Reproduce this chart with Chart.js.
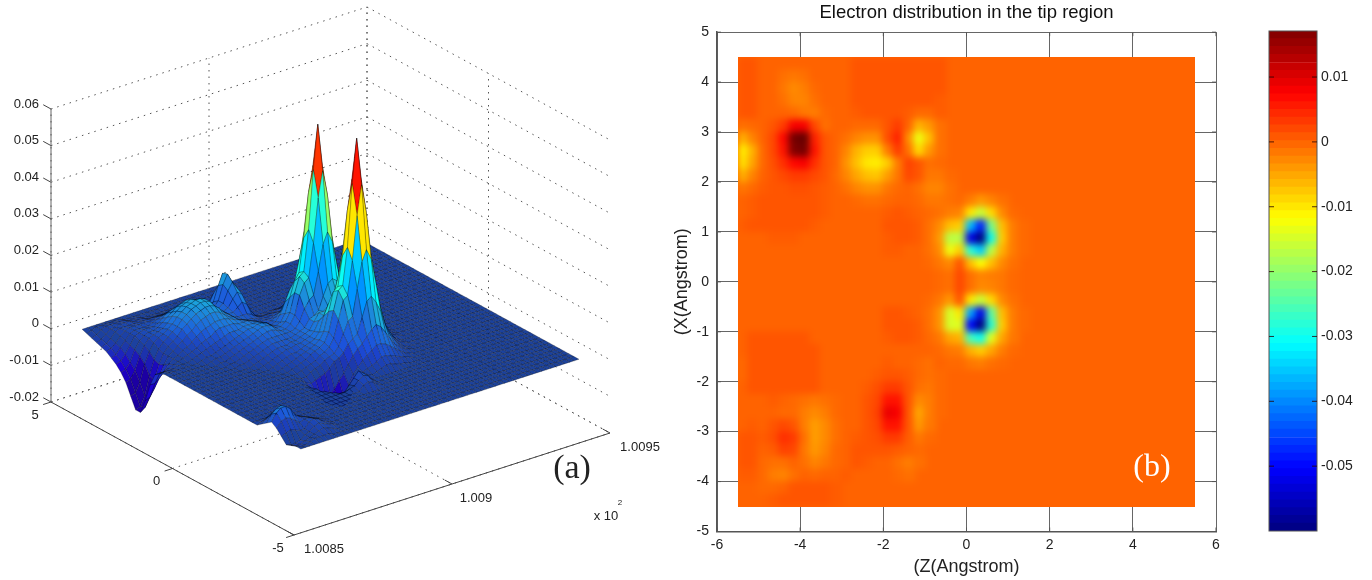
<!DOCTYPE html>
<html>
<head>
<meta charset="utf-8">
<title>Electron distribution in the tip region</title>
<script src="https://cdn.jsdelivr.net/npm/chart.js@4"></script>
<style>
  body { margin: 0; background: #fff; overflow: hidden; }
  canvas { position: absolute; top: 0; filter: blur(0.4px); }
  #surfaceChart { left: 0; }
  #heatChart { left: 660px; }
  #barChart { left: 1250px; }
</style>
</head>
<body>
<canvas id="surfaceChart" width="660" height="580"></canvas>
<canvas id="heatChart" width="590" height="580"></canvas>
<canvas id="barChart" width="122" height="580"></canvas>
<script>
// (a) surface: axis ticks
const zTicks = [-0.02, -0.01, 0, 0.01, 0.02, 0.03, 0.04, 0.05, 0.06];
const zTickLabels = ['-0.02', '-0.01', '0', '0.01', '0.02', '0.03', '0.04', '0.05', '0.06'];
const yTicks = [5, 0, -5];
const xTicks = [100.85, 100.9, 100.95];
const xTickLabels = ['1.0085', '1.009', '1.0095'];

// (a) surface mesh positions
const surfaceX = [100.856, 100.8575, 100.8589, 100.8604, 100.8619, 100.8633, 100.8648, 100.8663, 100.8677, 100.8692,
  100.8707, 100.8721, 100.8736, 100.8751, 100.8765, 100.878, 100.8795, 100.8809, 100.8824, 100.8839, 100.8853, 100.8868,
  100.8883, 100.8897, 100.8912, 100.8927, 100.8941, 100.8956, 100.8971, 100.8985, 100.9, 100.9015, 100.9029, 100.9044,
  100.9059, 100.9073, 100.9088, 100.9103, 100.9117, 100.9132, 100.9147, 100.9161, 100.9176, 100.9191, 100.9205, 100.922,
  100.9235, 100.9249, 100.9264, 100.9279, 100.9293, 100.9308, 100.9323, 100.9337, 100.9352, 100.9367, 100.9381, 100.9396,
  100.9411, 100.9425, 100.944];
const surfaceY = [4.5, 4.3, 4.1, 3.9, 3.7, 3.5, 3.3, 3.1, 2.9, 2.7, 2.5, 2.3, 2.1, 1.9, 1.7, 1.5, 1.3, 1.1, 0.9, 0.7, 0.5,
  0.3, 0.1, -0.1, -0.3, -0.5, -0.7, -0.9, -1.1, -1.3, -1.5, -1.7, -1.9, -2.1, -2.3, -2.5, -2.7, -2.9, -3.1, -3.3, -3.5,
  -3.7, -3.9, -4.1, -4.3, -4.5];

// (a) heights, in 0.001 units, one row per surfaceY. Missing columns are flat (0)
const surfaceHeight = [
  [],
  [-.5, 0, .5, .5, .5, .5, .5, .5],
  [-1, -.5, .5, 1, 1, 1, 1, 1, .5, .5, .5],
  [-1.5, -1, 0, 1, 1, 1.5, 1.5, 1.5, 1, 1, 1, .5, .5, .5, .5, .5, .5, .5],
  [-2, -1.5, -.5, 1, 1.5, 1.5, 1.5, 1.5, 1.5, 1.5, 1.5, 1.5, 1.5, 1.5, 1.5, 1, 1, 1, .5, .5, .5, .5, .5, .5],
  [-2.5, -2, -1, .5, 1.5, 2, 2, 2, 2, 2, 2, 2.5, 2.5, 2.5, 2.5, 2, 2, 1.5, 1, 1, 1, 1.5, 2, 2, 1, .5],
  [-3.5, -3, -1.5, 0, 1.5, 2, 2, 2, 2, 2.5, 3, 3.5, 4, 4, 4, 3.5, 3, 2.5, 2, 1.5, 1.5, 2.5, 5, 6, 4, 1],
  [-4.5, -4, -2.5, -.5, 1.5, 2, 2.5, 2.5, 2.5, 3, 4, 5, 5.5, 6, 6, 5.5, 5, 4, 3, 2.5, 2.5, 4, 8, 11, 8, 2],
  [-6, -5.5, -4, -1, 1, 2, 2.5, 2.5, 3, 4, 5, 6, 7, 7.5, 8, 7.5, 6.5, 5.5, 4, 3.5, 3.5, 5, 9, 11.5, 9, 3, .5],
  [-8, -7.5, -5.5, -2, .5, 2, 2.5, 3, 3.5, 4.5, 6, 7, 8, 8.5, 9, 8.5, 8, 6.5, 5, 4, 4, 5, 8, 10, 8, 3, .5],
  [-11, -10.5, -8, -3.5, -.5, 1.5, 2.5, 3, 4, 5, 6.5, 7.5, 8.5, 9, 9.5, 9.5, 9, 7.5, 6, 4.5, 4, 4.5, 6.5, 8, 7, 3, .5],
  [-14, -13.5, -11, -6, -2, .5, 2, 3, 4, 5, 6.5, 7.5, 8.5, 9, 9.5, 9.5, 9, 7.5, 6, 5, 4, 4, 5, 6, 5, 2.5, 1, .5, .5, .5, 1, 1, 1.5, 1, .5, .5],
  [-14, -13, -10.5, -6.5, -2.5, 0, 1.5, 2.5, 3.5, 5, 6, 7, 8, 8.5, 9, 9, 8.5, 7.5, 6, 5, 4, 3.5, 3.5, 3.5, 3, 2, 1.5, 1.5, 1.5, 1.5, 2, 2, 3, 2, 2, 1.5, 1, .5],
  [-10, -9.5, -7.5, -4.5, -2, 0, 1, 2, 3, 4, 5, 6, 7, 7.5, 8, 8, 7.5, 6.5, 5.5, 5, 4, 3.5, 3, 3, 2.5, 2, 2, 2, 2.5, 2.5, 3.5, 4, 5.5, 4, 3, 2.5, 1.5, 1, .5],
  [-5, -5, -4, -2.5, -1, 0, .5, 1.5, 2, 3, 4, 5, 5.5, 6, 6.5, 6.5, 6.5, 6, 5.5, 5, 4.5, 4, 3.5, 3, 2.5, 2.5, 2.5, 3, 3.5, 4, 5, 7, 9.5, 7, 5, 3, 2, 1.5, 1, .5],
  [-1.5, -1.5, -1.5, -1, -.5, 0, .5, 1, 1.5, 2, 3, 3.5, 4, 5, 5.5, 5.5, 5.5, 5.5, 5, 5, 5, 4.5, 4, 3, 2.5, 3, 3.5, 4.5, 6, 6.5, 8, 12, 16, 12, 8, 5, 3, 2, 1, .5],
  [-.5, -.5, -.5, -.5, 0, 0, 0, .5, 1, 1.5, 2, 2.5, 3, 3.5, 4, 4.5, 4.5, 4.5, 5, 5, 5, 5, 4.5, 4, 3, 3.5, 5, 8, 11, 12, 18, 25, 28, 25, 18, 12, 7, 4.5, 3, 1.5, 1, .5],
  [0, 0, 0, 0, 0, 0, 0, 0, .5, 1, 1, 1.5, 2, 2.5, 3, 3.5, 4, 4.5, 5, 5, 5.5, 5.5, 5, 4, 3.5, 4, 6, 10, 14, 16, 25, 37, 44, 37, 25, 15, 9, 5, 3, 1.5, 1, .5],
  [0, 0, 0, 0, 0, 0, 0, 0, 0, .5, 1, 1, 1.5, 2, 2.5, 3, 3.5, 4, 4.5, 5, 5.5, 5.5, 5, 4, 4, 5, 7, 12, 16, 17, 28, 44, 56, 44, 28, 16, 9.5, 5.5, 3, 1.5, 1, .5],
  [0, 0, 0, 0, 0, 0, 0, 0, 0, 0, .5, .5, 1, 1.5, 2, 2.5, 3, 3.5, 4, 4.5, 5, 5, 4.5, 4, 4, 5, 7, 12, 15, 16, 25, 37, 44, 37, 25, 15, 9, 5, 3, 1.5, 1, .5],
  [0, 0, 0, 0, 0, 0, 0, 0, 0, 0, 0, .5, .5, 1, 1.5, 2, 2.5, 3, 3.5, 4, 4, 4, 4, 4, 4, 4.5, 6, 9, 11, 12, 18, 25, 28, 25, 18, 12, 7, 4.5, 3, 1.5, 1, .5],
  [0, 0, 0, 0, 0, 0, 0, 0, 0, 0, 0, 0, .5, .5, 1, 1.5, 2, 2.5, 3, 3.5, 3.5, 3.5, 3.5, 3.5, 4, 4.5, 5, 7, 7.5, 8.5, 12, 15, 16, 15, 12, 8, 5, 3.5, 2, 1, .5],
  [0, 0, 0, 0, 0, 0, 0, 0, 0, 0, 0, 0, 0, 0, .5, 1, 1.5, 2, 2.5, 3, 3, 3, 3.5, 3.5, 4, 4.5, 5, 7, 9, 9, 10, 11, 12, 11, 9, 7, 5, 3, 2, 1, .5],
  [0, 0, 0, 0, 0, 0, 0, 0, 0, 0, 0, 0, 0, 0, 0, .5, 1, 1.5, 2, 2.5, 3, 3, 3.5, 3.5, 4, 4.5, 5.5, 8, 9, 10, 13, 16, 17, 16, 12.5, 8.5, 5, 3.5, 2, 1, .5],
  [0, 0, 0, 0, 0, 0, 0, 0, 0, 0, 0, 0, 0, 0, 0, 0, .5, 1, 1.5, 2, 2.5, 2.5, 3, 3.5, 4, 4.5, 6, 10, 13, 14, 19, 26, 29, 26, 19, 12.5, 7.5, 4.5, 3, 1.5, 1, .5],
  [0, 0, 0, 0, 0, 0, 0, 0, 0, 0, 0, 0, 0, 0, 0, 0, 0, .5, 1, 1.5, 2, 2.5, 3, 3.5, 4, 5, 7, 12, 17, 18, 26, 38, 46, 38, 26, 15.5, 9, 5, 3, 1.5, 1, .5],
  [0, 0, 0, 0, 0, 0, 0, 0, 0, 0, 0, 0, 0, 0, 0, 0, 0, 0, .5, 1, 1.5, 2, 3, 3.5, 4, 5, 7.5, 13, 18, 19, 29, 46, 58, 46, 29, 16, 9.5, 5.5, 3, 1.5, 1, .5],
  [0, 0, 0, 0, 0, 0, 0, 0, 0, 0, 0, 0, 0, 0, 0, 0, 0, 0, 0, .5, 1, 1.5, 2, 3, 3.5, 4.5, 6.5, 11, 16, 17, 26, 38, 46, 38, 26, 15.5, 9, 5, 3, 1.5, .5],
  [0, 0, 0, 0, 0, 0, 0, 0, 0, 0, 0, 0, 0, 0, 0, 0, 0, 0, -.5, -.5, .5, 1, 1.5, 2.5, 3, 3.5, 5, 8, 11, 12, 19, 26, 29, 26, 19, 12, 7, 4.5, 2.5, 1, .5],
  [0, 0, 0, 0, 0, 0, 0, 0, 0, 0, 0, 0, 0, 0, 0, 0, 0, 0, -1, -1.5, -1, -.5, 0, 1, 2.5, 3, 4, 6, 7, 8, 12, 16, 17, 15, 12, 8, 5, 3, 1.5, .5],
  [0, 0, 0, 0, 0, 0, 0, 0, 0, 0, 0, 0, 0, 0, 0, 0, 0, -.5, -2, -3.5, -4.5, -5, -5, -4, -2, -.5, 1.5, 3.5, 5, 6, 7.5, 9, 10, 9, 7, 5, 3, 2, 1, .5],
  [0, 0, 0, 0, 0, 0, 0, 0, 0, 0, 0, 0, 0, 0, 0, 0, 0, -.5, -2.5, -4, -5.5, -6.5, -7, -7, -6, -3, -.5, 1, 2.5, 3.5, 4.5, 5.5, 5.5, 5, 4, 3, 2, 1, .5],
  [0, 0, 0, 0, 0, 0, 0, 0, 0, 0, 0, 0, 0, 0, 0, 0, 0, 0, -2, -3.5, -5, -6, -6.5, -7, -6, -3, -.5, .5, 1, 1.5, 2, 3, 3, 2.5, 2, 1.5, 1, .5],
  [0, 0, 0, 0, 0, 0, 0, 0, 0, 0, 0, 0, 0, 0, 0, 0, 0, 0, -.5, -1.5, -2.5, -3.5, -4, -3.5, -2, 0, 1, .5, 0, .5, 1, 1.5, 1.5, 1, .5, .5],
  [0, 0, 0, 0, 0, 0, 0, 0, 0, 0, 0, 0, 0, 0, 0, 0, 0, 0, 0, -.5, -1, -1, .5, 2, 3.5, 2.5, 1],
  [0, 0, 0, 0, 0, 0, 0, 0, 0, 0, 0, 0, 0, 0, 0, 0, 0, 0, 0, 0, 0, .5, 1, 2, 3, 2.5, 1],
  [0, .5, 1, 1.5, 1.5, 1, .5, 0, 0, 0, 0, 0, 0, 0, 0, 0, 0, 0, 0, 0, 0, 0, 0, 1.5, 2, 1.5, .5],
  [1, 2, 3, 3.5, 3, 2, 1, .5],
  [2, 4, 5, 5.5, 4.5, 3, 1.5, 1, .5],
  [3, 5, 6, 6, 5, 3, 2, 1.5, 1, .5],
  [2, 3.5, 4, 3.5, 2.5, 1.5, 2, 2, 1.5, 1, .5],
  [.5, 1, 1.5, 1, .5, .5, 2, 2.5, 2, 1, .5],
  [-1, -1.5, -1.5, -1, 0, .5, 1.5, 2, 1.5, 1, .5],
  [-.5, -1, -1, -.5, 0, .5, 1, 1.5, 1, .5],
  [0, -.5, -.5, 0, .5, .5, .5, .5],
  []
];

// (b) contour map: cell centres
const heatZ = [-5.375, -5.125, -4.875, -4.625, -4.375, -4.125, -3.875, -3.625, -3.375, -3.125, -2.875, -2.625, -2.375,
  -2.125, -1.875, -1.625, -1.375, -1.125, -0.875, -0.625, -0.375, -0.125, 0.125, 0.375, 0.625, 0.875, 1.125, 1.375, 1.625, 1.875];
const heatX = [4.375, 4.125, 3.875, 3.625, 3.375, 3.125, 2.875, 2.625, 2.375, 2.125, 1.875, 1.625, 1.375, 1.125, 0.875,
  0.625, 0.375, 0.125, -0.125, -0.375, -0.625, -0.875, -1.125, -1.375, -1.625, -1.875, -2.125, -2.375, -2.625, -2.875,
  -3.125, -3.375, -3.625, -3.875, -4.125, -4.375];

// (b) values, in 0.001 units, one row per heatX. Everything past a row's end is the background 0
const heatValues = [
  [1, 1, 0, 0, 0, 0, 0, 0, 0, 0, 0, 1, 1, 1, 1, 1, 1, 1, 1, 1],
  [1, 1, 0, 0, -1, -1.5, -1, 0, 0, 0, 0, 1, 1, 1, 1, 1, 1, 1, 1, 1],
  [1, 1, 0, 0, -1.5, -3, -2, -.5, 0, 0, 0, 1, 1, 1, 1, 1, 1, 1, 1, 1],
  [1, 1, 0, 0, -1, -2.5, -2.5, -1, 0, 0, 0, 1, 1, 1, 1, 1, 1, 1, 1, .5],
  [1, 1, 0, 0, 0, -.5, -1.5, -2, -.5, 0, 0, .5, 1, 1, 1, 1, .5, -.5, -.5, .5],
  [-1, -.5, 0, 1, 3, 8, 8, 2, -1, 0, 0, -.5, -.5, -.5, 1, 3, 0, -6, -4, -1],
  [-6, -2.5, 0, 2, 7, 18, 19, 5, 1, 0, -1, -2.5, -3.5, -3.5, 1.5, 5, -3, -13, -7, -1],
  [-11, -6, -.5, 2, 6, 17, 18, 6, 1, 0, -2.5, -6, -8, -8, -2, 3, -1, -9, -4, -1],
  [-10, -5, -.5, 1.5, 4, 7, 8, 4, 1, 0, -3.5, -7, -10, -10.5, -8, -2, 2.5, 1, -1, -.5],
  [-6, -2.5, 0, 1, 2, 3, 3, 2, 1, -.5, -2.5, -5, -7, -7.5, -4.5, -1.5, 2, 1, -1.5, -1.5, -.5],
  [-1.5, -.5, .5, 1, 1, 1.5, 1.5, 1, .5, 0, -1, -2.5, -3.5, -3.5, -1.5, -.5, 0, -1, -2.5, -2.5, -1],
  [0, .5, 1, 1, 1, 1, 1, 1, .5, 0, 0, -.5, -1, -1, -.5, 0, 0, -.5, -1.5, -1.5, -1, -.5, -2, -4, -2.5, -1],
  [0, .5, 1, 1, 1, 1, 1, 1, .5, 0, 0, 0, 0, 0, .5, 1, .5, 0, -.5, -1, -2, -2.5, -10, -16, -9, -3, -.5],
  [.5, 1, 1, 1, 1, 1, 1, .5, 0, 0, 0, 0, 0, 0, 1, 1, 1, .5, -1, -3, -7, -8, -36, -48, -22, -7, -2, -.5],
  [0, 0, 0, .5, .5, .5, 0, 0, 0, 0, 0, 0, 0, 0, .5, 1, 1, .5, -1, -4, -17, -17, -52, -60, -30, -8, -2, -.5],
  [0, 0, 0, 0, 0, 0, 0, 0, 0, 0, 0, 0, 0, 0, .5, .5, 0, 0, -1, -3, -13, -8, -28, -35, -17, -6, -2, -.5],
  [0, 0, 0, 0, 0, 0, 0, 0, 0, 0, 0, 0, 0, 0, 0, 0, 0, 0, -.5, -1.5, -3, 1, -7, -12, -7, -3, -1],
  [0, 0, 0, 0, 0, 0, 0, 0, 0, 0, 0, 0, 0, 0, 0, 0, 0, 0, 0, -.5, -1, 2, -1, -2.5, -2, -1.5, -.5],
  [0, 0, 0, 0, 0, 0, 0, 0, 0, 0, 0, 0, 0, 0, 0, 0, 0, 0, 0, -.5, -1, 2, -1, -3, -2.5, -1.5, -.5],
  [0, 0, 0, 0, 0, 0, 0, 0, 0, 0, 0, 0, 0, 0, 0, 0, 0, 0, -.5, -1.5, -4, 1, -10, -16, -9, -3, -1],
  [0, 0, 0, 0, 0, 0, 0, 0, 0, 0, 0, 0, 0, 0, 1, 1, .5, 0, -1, -3.5, -15, -10, -38, -52, -24, -7, -2, -.5],
  [0, 0, 0, 0, 0, 0, 0, 0, 0, 0, 0, 0, 0, 0, 1, 1, 1, .5, -1, -3.5, -15, -14, -50, -60, -28, -8, -2, -.5],
  [0, 1, 1, 1, 1, 1, 1, 0, 0, 0, 0, 0, 0, 0, .5, 1, 1, .5, -.5, -1.5, -5, -6, -26, -30, -14, -5, -1.5],
  [0, 1, 1, 1, 1, 1, 1, 1, 0, 0, 0, 0, 0, 0, 0, 0, 0, 0, 0, -.5, -1.5, -2, -6, -8, -5, -2, -.5],
  [-.5, 1, 1, 1, 1, 1, 1, 1, 0, 0, 0, 0, 0, 0, .5, 0, 0, -.5, -1, 0, -.5, -.5, -1.5, -2, -1, -.5],
  [-.5, 1, 1, 1, 1, 1, 1, 1, 0, 0, 0, 0, 0, .5, 1, 1, .5, -.5, -1, -.5],
  [0, 1, 1, 1, 1, 1, 1, 1, 0, 0, 0, 0, .5, 1.5, 3, 3, 1, -1, -1.5, -.5],
  [0, 0, 0, .5, 0, -.5, -1, -1.5, -1, -.5, 0, 0, 1, 2, 6, 6, 1, -3, -2, -.5],
  [0, 0, 0, 0, -.5, -.5, -2, -3, -2, -.5, 0, 0, 1, 2.5, 9, 8, 1, -5, -2, -.5],
  [0, .5, 0, 1, 2, 1, -2, -4.5, -3, -1, 0, 0, 1, 2, 6, 6, 1, -4, -1.5],
  [1, 1, .5, 1.5, 4, 3, -1, -4.5, -3, -1, 0, .5, 1, 1.5, 3, 3, .5, -1.5, -.5],
  [1, 1, 0, .5, 2.5, 2, -1.5, -4, -2.5, -.5, 0, 1, 1, 1, 1, .5, 0, -.5],
  [1, 1, -.5, -1, -1, 0, -1, -2.5, -1.5, -.5, 0, 1, .5, 0, 0, -1, -2, -1],
  [.5, .5, -.5, -2, -2.5, -1, 0, -.5, 0, 0, .5, 0, 0, 0, 0, -.5, -1],
  [0, 0, -.5, -.5, 0, 1, 1, 1, 1, .5],
  [0, 0, 0, .5, 1, 1, 1, 1, 1, .5]
];
const heatAxisX = [-6, -4, -2, 0, 2, 4, 6];
const heatAxisY = [-5, -4, -3, -2, -1, 0, 1, 2, 3, 4, 5];

// colorbar
const barTicks = [0.01, 0, -0.01, -0.02, -0.03, -0.04, -0.05];
const barLevels = [-0.0594, -0.0582, -0.057, -0.0558, -0.0546, -0.0534, -0.0522, -0.051, -0.0498, -0.0486, -0.0474,
  -0.0462, -0.0449, -0.0437, -0.0425, -0.0413, -0.0401, -0.0389, -0.0377, -0.0365, -0.0353, -0.0341, -0.0329, -0.0317,
  -0.0305, -0.0293, -0.0281, -0.0269, -0.0257, -0.0245, -0.0233, -0.0221, -0.0208, -0.0196, -0.0184, -0.0172, -0.016,
  -0.0148, -0.0136, -0.0124, -0.0112, -0.01, -0.0088, -0.0076, -0.0064, -0.0052, -0.004, -0.0028, -0.0016, -0.0004,
  0.0008, 0.002, 0.0032, 0.0044, 0.0056, 0.0068, 0.008, 0.0092, 0.0104, 0.0116, 0.0129, 0.0141, 0.0153, 0.0165];
const barMin = -0.06;
const barMax = 0.0171;

const textFont = '"Liberation Sans", Arial, sans-serif';
const serifFont = '"Liberation Serif", "Times New Roman", serif';

Chart.defaults.animation = false;
Chart.defaults.devicePixelRatio = 1;
Chart.defaults.plugins.legend.display = false;
Chart.defaults.plugins.tooltip.enabled = false;

function clamp01(v) {
  return Math.max(0, Math.min(1, v));
}

// matlab jet colormap, t in 0..1
function jet(t) {
  return [
    clamp01(Math.min(4 * t - 1.5, -4 * t + 4.5)) * 255,
    clamp01(Math.min(4 * t - 0.5, -4 * t + 3.5)) * 255,
    clamp01(Math.min(4 * t + 0.5, -4 * t + 2.5)) * 255
  ];
}

function rgb(c) {
  return `rgb(${Math.round(c[0])},${Math.round(c[1])},${Math.round(c[2])})`;
}

function heatColor(v) {
  return rgb(jet((v - barMin) / (barMax - barMin)));
}

// surface colour: jet by height, flat parts look dark because of the dense mesh,
// faces turned to the viewer come out a bit bluer like in the picture
function surfaceColor(z, facing) {
  let t = z < 0.035 ? 0.19 + 10.5 * z : 0.5575 + 17 * (z - 0.035);
  if (z < 0.04) t -= Math.min(0.22, Math.max(0, facing) * 11);
  const c = jet(Math.max(0.06, t));
  if (z < 0.02) {
    c[0] += 28;
    c[2] *= 0.86;
  }
  const flat = [28, 66, 156];
  const m = clamp01(Math.abs(z) / 0.005);
  return rgb(c.map((v, k) => v * m + flat[k] * (1 - m)));
}

// view of the 3D box, gives positions on the chart's x/y scales
function project(x, y, z) {
  const a = (x - 100.85) / 0.1;
  const b = (y + 5) / 10;
  const c = (z + 0.02) / 0.08;
  return { x: 294 + 316 * a - 243 * b, y: 535 - 102 * a - 133 * b - 293 * c };
}

function height(j, i) {
  return (surfaceHeight[j][i] || 0) / 1000;
}

function lineSet(points, color, dash, width) {
  return {
    data: points, borderColor: color, borderWidth: width || 1, borderDash: dash || [],
    pointRadius: 0, fill: false, tension: 0
  };
}

function buildSurfaceDatasets() {
  const axes = [];
  const grid = [];
  const dots = [1.5, 5];
  const dotColor = '#555';
  const zMin = zTicks[0];
  const zMax = zTicks[zTicks.length - 1];

  // solid axes and their tick marks
  axes.push(lineSet([project(100.85, 5, zMin), project(100.85, 5, zMax)], '#666'));
  axes.push(lineSet([project(100.85, 5, zMin), project(100.85, -5, zMin)], '#444'));
  axes.push(lineSet([project(100.85, -5, zMin), project(100.95, -5, zMin)], '#444'));
  zTicks.forEach(z => axes.push(lineSet([project(100.85, 5, z), project(100.85, 5.32, z)], '#444')));
  yTicks.forEach(y => axes.push(lineSet([project(100.85, y, zMin), project(100.8475, y, zMin)], '#444')));
  xTicks.forEach(x => axes.push(lineSet([project(x, -5, zMin), project(x, -4.7, zMin)], '#444')));

  // dotted walls and floor
  zTicks.forEach(z => {
    grid.push(lineSet([project(100.85, 5, z), project(100.95, 5, z)], dotColor, dots));
    grid.push(lineSet([project(100.95, 5, z), project(100.95, -5, z)], dotColor, dots));
  });
  yTicks.forEach(y => {
    grid.push(lineSet([project(100.85, y, zMin), project(100.95, y, zMin)], dotColor, dots));
    if (y > -5) grid.push(lineSet([project(100.95, y, zMin), project(100.95, y, zMax)], dotColor, dots));
  });
  xTicks.forEach(x => {
    grid.push(lineSet([project(x, 5, zMin), project(x, -5, zMin)], dotColor, dots));
    grid.push(lineSet([project(x, 5, zMin), project(x, 5, zMax)], dotColor, dots));
  });

  // mesh cells, nearest first because chart.js draws the last dataset first
  const cells = [];
  for (let j = surfaceY.length - 2; j >= 0; j--) {
    for (let i = 0; i < surfaceX.length - 1; i++) {
      const h = [height(j, i), height(j, i + 1), height(j + 1, i + 1), height(j + 1, i)];
      const set = lineSet([
        project(surfaceX[i], surfaceY[j], h[0]),
        project(surfaceX[i + 1], surfaceY[j], h[1]),
        project(surfaceX[i + 1], surfaceY[j + 1], h[2]),
        project(surfaceX[i], surfaceY[j + 1], h[3]),
        project(surfaceX[i], surfaceY[j], h[0])
      ], 'rgba(0,0,0,0.5)', [], 0.5);
      const mean = (h[0] + h[1] + h[2] + h[3]) / 4;
      const top = Math.abs(mean) > 0.01 ? (mean + Math.max(...h)) / 2 : mean;
      const facing = (h[1] + h[2] - h[0] - h[3]) / 2 + (h[0] + h[1] - h[2] - h[3]) / 2;
      set.cellColor = surfaceColor(top, facing);
      cells.push(set);
    }
  }
  return axes.concat(cells, grid);
}

// fills a mesh cell just before the library strokes its outline
const cellFill = {
  id: 'cellFill',
  beforeDatasetDraw(chart, args) {
    const color = chart.data.datasets[args.index].cellColor;
    if (!color) return;
    const pts = args.meta.data;
    const ctx = chart.ctx;
    ctx.save();
    ctx.beginPath();
    pts.forEach((p, k) => (k ? ctx.lineTo(p.x, p.y) : ctx.moveTo(p.x, p.y)));
    ctx.fillStyle = color;
    ctx.fill();
    ctx.restore();
  }
};

const surfaceText = {
  id: 'surfaceText',
  afterDraw(chart) {
    const { ctx, scales } = chart;
    const put = (text, p, dx, dy, align, font) => {
      ctx.font = font || `13px ${textFont}`;
      ctx.textAlign = align || 'center';
      ctx.textBaseline = 'middle';
      ctx.fillStyle = '#222';
      ctx.fillText(text, scales.x.getPixelForValue(p.x) + dx, scales.y.getPixelForValue(p.y) + dy);
    };
    const zMin = zTicks[0];
    zTicks.forEach((z, k) => put(zTickLabels[k], project(100.85, 5, z), -12, -5, 'right'));
    yTicks.forEach(y => put(String(y), project(100.85, y, zMin), -16, 13));
    const xShift = [30, 24, 30];
    xTicks.forEach((x, k) => put(xTickLabels[k], project(x, -5, zMin), xShift[k], 14));
    put('x 10', project(100.95, -5, zMin), -4, 83);
    put('2', project(100.95, -5, zMin), 10, 70, 'center', `8px ${textFont}`);
    put('(a)', project(100.95, -5, zMin), -38, 36, 'center', `34px ${serifFont}`);
  }
};

new Chart(document.getElementById('surfaceChart'), {
  type: 'line',
  data: { datasets: buildSurfaceDatasets() },
  options: {
    responsive: false,
    scales: {
      x: { type: 'linear', min: 0, max: 660, display: false },
      y: { type: 'linear', min: 0, max: 580, reverse: true, display: false }
    }
  },
  plugins: [cellFill, surfaceText]
});

// short inward tick marks, matlab style
function drawInnerTicks(ctx, scale, area, len) {
  scale.ticks.forEach(t => {
    const p = scale.getPixelForValue(t.value);
    ctx.beginPath();
    if (scale.isHorizontal()) {
      ctx.moveTo(p, area.bottom); ctx.lineTo(p, area.bottom - len);
      ctx.moveTo(p, area.top); ctx.lineTo(p, area.top + len);
    } else {
      ctx.moveTo(area.left, p); ctx.lineTo(area.left + len, p);
      ctx.moveTo(area.right, p); ctx.lineTo(area.right - len, p);
    }
    ctx.stroke();
  });
}

// fills the map rectangle, lets the cells draw, then softens them into smooth contours
const heatPatch = {
  id: 'heatPatch',
  rect(chart) {
    const { x, y } = chart.scales;
    const left = Math.round(x.getPixelForValue(-5.5));
    const top = Math.round(y.getPixelForValue(4.5));
    return {
      left, top,
      w: Math.round(x.getPixelForValue(5.5)) - left,
      h: Math.round(y.getPixelForValue(-4.5)) - top
    };
  },
  beforeDatasetDraw(chart) {
    const r = this.rect(chart);
    const ctx = chart.ctx;
    ctx.save();
    ctx.fillStyle = heatColor(0);
    ctx.fillRect(r.left, r.top, r.w, r.h);
    ctx.beginPath();
    ctx.rect(r.left, r.top, r.w, r.h);
    ctx.clip();
  },
  afterDatasetDraw(chart) {
    const r = this.rect(chart);
    const ctx = chart.ctx;
    ctx.restore();
    const pad = 16;
    const tmp = document.createElement('canvas');
    tmp.width = r.w + 2 * pad;
    tmp.height = r.h + 2 * pad;
    const t = tmp.getContext('2d');
    t.fillStyle = heatColor(0);
    t.fillRect(0, 0, tmp.width, tmp.height);
    t.drawImage(chart.canvas, r.left, r.top, r.w, r.h, pad, pad, r.w, r.h);
    ctx.save();
    ctx.beginPath();
    ctx.rect(r.left, r.top, r.w, r.h);
    ctx.clip();
    ctx.filter = 'blur(3.5px)';
    ctx.drawImage(tmp, r.left - pad, r.top - pad);
    ctx.restore();
  },
  afterDraw(chart) {
    const { ctx, chartArea, scales } = chart;
    ctx.save();
    ctx.strokeStyle = '#555';
    ctx.lineWidth = 1;
    drawInnerTicks(ctx, scales.x, chartArea, 4);
    drawInnerTicks(ctx, scales.y, chartArea, 4);
    ctx.font = `32px ${serifFont}`;
    ctx.fillStyle = '#fff';
    ctx.textAlign = 'center';
    ctx.textBaseline = 'middle';
    ctx.fillText('(b)', scales.x.getPixelForValue(4.46), scales.y.getPixelForValue(-3.73));
    ctx.restore();
  }
};

const heatCells = [];
const heatColors = [];
heatValues.forEach((row, r) => {
  row.forEach((v, k) => {
    heatCells.push({ x: heatZ[k], y: heatX[r] });
    heatColors.push(heatColor(v / 1000));
  });
});

const dotGrid = { color: '#666', borderDash: [1.5, 4], lineWidth: 1, drawTicks: false };
const tickFont = { family: textFont, size: 14 };
const labelFont = { family: textFont, size: 18 };

new Chart(document.getElementById('heatChart'), {
  type: 'scatter',
  data: {
    datasets: [{
      data: heatCells,
      pointStyle: 'rect',
      pointRadius: 9.2,
      pointBorderWidth: 0,
      pointBackgroundColor: heatColors
    }]
  },
  options: {
    responsive: false,
    layout: { padding: { right: 34 } },
    plugins: {
      title: {
        display: true,
        text: 'Electron distribution in the tip region',
        fullSize: false,
        color: '#111',
        font: { family: textFont, size: 18.5, weight: 'normal' },
        padding: { top: 2, bottom: 8 }
      }
    },
    scales: {
      x: {
        type: 'linear', min: -6, max: 6,
        afterBuildTicks: s => { s.ticks = heatAxisX.map(value => ({ value })); },
        afterFit: s => { s.height = 48.5; },
        grid: dotGrid,
        border: { color: '#555', width: 1.5 },
        ticks: { color: '#222', font: tickFont, padding: 5, maxRotation: 0 },
        title: { display: true, text: '(Z(Angstrom)', color: '#222', font: labelFont, padding: { top: 0, bottom: 2 } }
      },
      y: {
        type: 'linear', min: -5, max: 5,
        afterBuildTicks: s => { s.ticks = heatAxisY.map(value => ({ value })); },
        afterFit: s => { s.width = 57; },
        grid: dotGrid,
        border: { color: '#555', width: 1.5 },
        ticks: { color: '#222', font: tickFont, padding: 8 },
        title: { display: true, text: '(X(Angstrom)', color: '#222', font: labelFont, padding: { top: 11, bottom: 0 } }
      }
    }
  },
  plugins: [heatPatch]
});

// colorbar, one floating bar per colormap level
const barStep = 0.00062;
const barOutline = {
  id: 'barOutline',
  afterDraw(chart) {
    const { ctx, chartArea: a, scales } = chart;
    ctx.save();
    ctx.strokeStyle = '#555';
    ctx.lineWidth = 1;
    ctx.strokeRect(a.left, a.top, a.right - a.left, a.bottom - a.top);
    ctx.strokeStyle = 'rgba(40,0,0,0.8)';
    drawInnerTicks(ctx, scales.y, a, 5);
    ctx.restore();
  }
};

new Chart(document.getElementById('barChart'), {
  type: 'bar',
  data: {
    labels: ['level'],
    datasets: barLevels.map(v => ({
      data: [[v - barStep, v + barStep]],
      backgroundColor: heatColor(v),
      grouped: false,
      barPercentage: 1,
      categoryPercentage: 1
    }))
  },
  options: {
    responsive: false,
    layout: { padding: { left: 19, top: 31, bottom: 49 } },
    scales: {
      x: { display: false },
      y: {
        position: 'right', min: barMin, max: barMax,
        afterBuildTicks: s => { s.ticks = barTicks.map(value => ({ value })); },
        afterFit: s => { s.width = 55; },
        grid: { display: false, drawTicks: false, tickLength: 0 },
        border: { display: false },
        ticks: { color: '#222', font: tickFont, padding: 4, callback: v => String(v) }
      }
    }
  },
  plugins: [barOutline]
});
</script>
</body>
</html>
